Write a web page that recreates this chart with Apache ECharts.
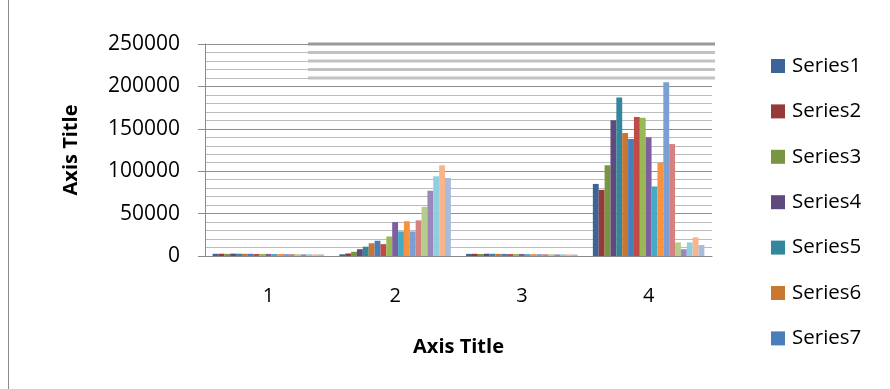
<!DOCTYPE html>
<html>
<head>
<meta charset="utf-8">
<script src="https://cdn.jsdelivr.net/npm/echarts@6/dist/echarts.min.js"></script>
<style>
  html, body { margin: 0; padding: 0; background: #ffffff; }
  #chart { width: 890px; height: 389px; }
</style>
</head>
<body>
<div id="chart"></div>
<script>
// Categories on the x axis
const categories = ['1', '2', '3', '4'];

// Series names (only the first seven fit in the legend)
const seriesNames = [
  'Series1', 'Series2', 'Series3', 'Series4', 'Series5', 'Series6', 'Series7',
  'Series8', 'Series9', 'Series10', 'Series11', 'Series12', 'Series13',
  'Series14', 'Series15', 'Series16', 'Series17', 'Series18', 'Series19'
];
const legendNames = seriesNames.slice(0, 7);

// Values per category, one entry per series (Series1 .. Series19)
const valuesCat1 = [2600, 2700, 2500, 2800, 2700, 2600, 2600, 2400, 2500, 2500, 2300, 2400, 2300, 2200, 2100, 2000, 2100, 2000, 1900];
const valuesCat2 = [2000, 3000, 5000, 8000, 11000, 15000, 18000, 14000, 23000, 40000, 29000, 41000, 29000, 42000, 58000, 77000, 94000, 107000, 92000];
const valuesCat3 = [2500, 2600, 2400, 2700, 2600, 2500, 2500, 2300, 2400, 2400, 2200, 2300, 2200, 2100, 2000, 1900, 2000, 1900, 1800];
const valuesCat4 = [85000, 78000, 107000, 160000, 187000, 145000, 138000, 164000, 163000, 140000, 82000, 110000, 205000, 132000, 16000, 8000, 16000, 22000, 13000];

// Value axis ticks
const yMin = 0;
const yMax = 250000;
const yStep = 50000;

// Palette: dark, normal and light shades of the six theme accents
const seriesColors = [
  '#3d6498', '#953a38', '#789542', '#5f4a7d', '#34869c', '#c97630',
  '#4a7ebb', '#be4b48', '#98b954', '#7d5fa0', '#46aac5', '#f69240',
  '#7c9fd3', '#d5817f', '#b5cc8a', '#9a88bc', '#8ecfe2', '#f9b48a',
  '#a9bcdb'
];

const byCategory = [valuesCat1, valuesCat2, valuesCat3, valuesCat4];

const series = seriesNames.map((name, i) => ({
  name: name,
  type: 'bar',
  data: byCategory.map(vals => vals[i]),
  barGap: '0%',
  barCategoryGap: '12%',
  itemStyle: { color: seriesColors[i] }
}));

const fontFamily = '"Open Sans", "Noto Sans", sans-serif';

const chart = echarts.init(document.getElementById('chart'), null, { renderer: 'canvas' });

chart.setOption({
  animation: false,
  backgroundColor: '#ffffff',
  textStyle: { fontFamily: fontFamily },
  grid: { left: 205, right: 178, top: 44, bottom: 133 },
  legend: {
    data: legendNames,
    orient: 'vertical',
    left: 771,
    top: 54,
    padding: 0,
    itemWidth: 14,
    itemHeight: 14,
    itemGap: 21.4,
    icon: 'rect',
    textStyle: { fontSize: 20.5, color: '#000000', lineHeight: 24, fontFamily: fontFamily, padding: [0, 0, 0, 2] }
  },
  xAxis: {
    type: 'category',
    data: categories,
    axisLine: { show: true, lineStyle: { color: '#8a8a8a', width: 1 } },
    axisTick: { show: false },
    axisLabel: { fontSize: 20, color: '#000000', margin: 30 },
    name: 'Axis Title',
    nameLocation: 'middle',
    nameGap: 91,
    nameTextStyle: { fontSize: 20, fontWeight: 'bold', color: '#000000', verticalAlign: 'middle' }
  },
  yAxis: {
    type: 'value',
    min: yMin,
    max: yMax,
    interval: yStep,
    axisLine: { show: true, lineStyle: { color: '#8a8a8a', width: 1 } },
    axisTick: { show: true, length: 7, lineStyle: { color: '#8a8a8a' } },
    axisLabel: { fontSize: 21, color: '#000000', margin: 25, padding: [6, 0, 0, 0], formatter: v => String(v) },
    splitLine: { show: true, lineStyle: { color: '#8f8f8f', width: 1 } },
    minorTick: { show: false, splitNumber: 5 },
    minorSplitLine: { show: true, lineStyle: { color: '#bcbcbc', width: 1 } },
    name: 'Axis Title',
    nameLocation: 'middle',
    nameRotate: 90,
    nameGap: 134,
    nameTextStyle: { fontSize: 20, fontWeight: 'bold', color: '#000000', verticalAlign: 'middle' }
  },
  series: series
});

// Heavier gridline band across the upper right of the back wall,
// placed on the gridline values through the axis scale.
const bandValues = [250000, 240000, 230000, 220000, 210000];
const bandGraphics = bandValues.map((v, i) => {
  const y = chart.convertToPixel({ yAxisIndex: 0 }, v);
  return {
    type: 'rect',
    shape: { x: 308, y: y - 1.5, width: 407, height: 3 },
    style: { fill: i === 0 ? '#9a9a9a' : '#c2c2c2' },
    silent: true,
    z: 1
  };
});

chart.setOption({
  graphic: [
    {
      type: 'line',
      shape: { x1: 8.5, y1: 0, x2: 8.5, y2: 389 },
      style: { stroke: '#8a8a8a', lineWidth: 1 },
      silent: true
    }
  ].concat(bandGraphics)
});
</script>
</body>
</html>
